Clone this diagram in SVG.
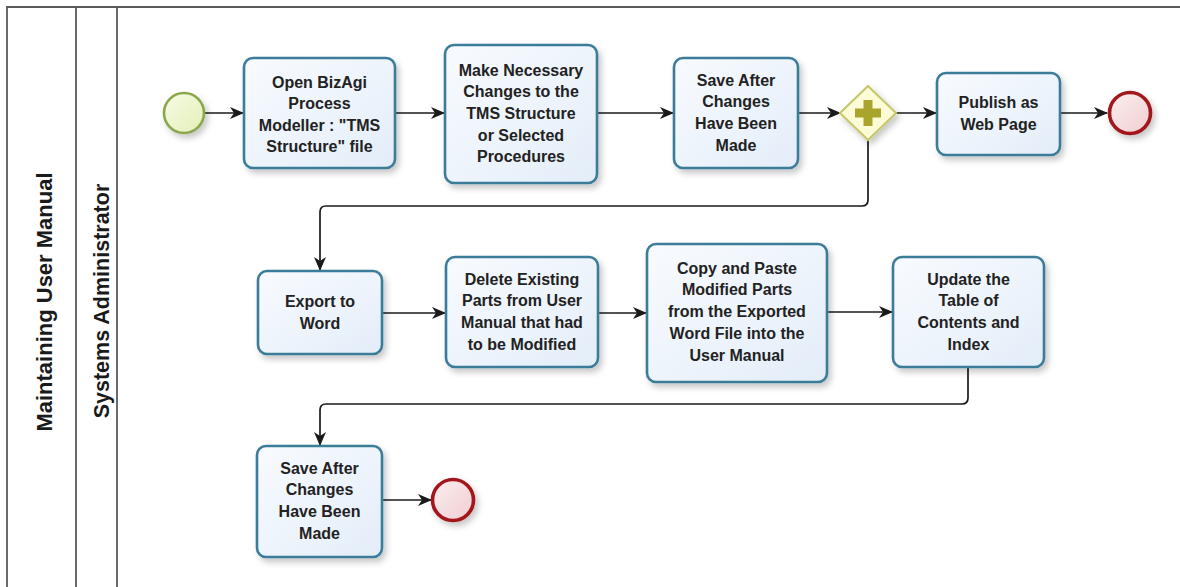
<svg xmlns="http://www.w3.org/2000/svg" width="1180" height="587" viewBox="0 0 1180 587">
  <style>
    .pool { stroke: #5a5a5a; stroke-width: 1.8; fill: none; }
    .task { fill: url(#taskFill); stroke: #3b7c98; stroke-width: 2.6; filter: url(#shadow); }
    .label { font-family: "Liberation Sans", Arial, sans-serif; font-weight: bold; font-size: 16px; fill: #222; text-anchor: middle; }
    .lane { font-family: "Liberation Sans", Arial, sans-serif; font-weight: bold; font-size: 22px; fill: #1a1a1a; text-anchor: middle; }
    .flow { fill: none; stroke: #1a1a1a; stroke-width: 1.7; marker-end: url(#arrow); }
    .start { fill: url(#startFill); stroke: #8aa84a; stroke-width: 2.6; filter: url(#shadow); }
    .end { fill: url(#endFill); stroke: #a3141c; stroke-width: 3.6; filter: url(#shadow); }
    .gate { fill: #fbfbd6; stroke: #c6c66a; stroke-width: 2; filter: url(#shadow); }
    .plus { fill: #a9a52c; }
  </style>
  <defs>
    <linearGradient id="taskFill" x1="0" y1="0" x2="1" y2="1">
      <stop offset="0" stop-color="#f8fbff"/>
      <stop offset="1" stop-color="#e3edf8"/>
    </linearGradient>
    <linearGradient id="startFill" x1="0" y1="0" x2="1" y2="1">
      <stop offset="0" stop-color="#f7fbe4"/>
      <stop offset="1" stop-color="#e3efb8"/>
    </linearGradient>
    <linearGradient id="endFill" x1="0" y1="0" x2="1" y2="1">
      <stop offset="0" stop-color="#fcefef"/>
      <stop offset="1" stop-color="#efcdd0"/>
    </linearGradient>
    <filter id="shadow" x="-20%" y="-20%" width="150%" height="150%">
      <feDropShadow dx="3" dy="4" stdDeviation="3" flood-color="#000" flood-opacity="0.22"/>
    </filter>
    <marker id="arrow" viewBox="0 0 14 12" refX="13" refY="6" markerWidth="14" markerHeight="12" markerUnits="userSpaceOnUse" orient="auto">
      <path d="M0,0 L14,6 L0,12 L4,6 z" fill="#1a1a1a"/>
    </marker>
  </defs>

  <!-- pool and lane frame -->
  <g id="pool">
    <path class="pool" d="M7,587 V7 H1180 M76,7 V587 M117,7 V587"/>
    <text class="lane" transform="translate(52,302) rotate(-90)">Maintaining User Manual</text>
    <text class="lane" transform="translate(109,301) rotate(-90)" style="font-size:21.5px">Systems Administrator</text>
  </g>

  <!-- sequence flows -->
  <g id="connectors">
    <path class="flow" d="M205,113 H243"/>
    <path class="flow" d="M395,113 H444"/>
    <path class="flow" d="M597,113 H673"/>
    <path class="flow" d="M798,113 H840"/>
    <path class="flow" d="M896,113 H936"/>
    <path class="flow" d="M1060,113 H1107"/>
    <path class="flow" d="M868,140 V200 Q868,206 862,206 H326 Q320,206 320,212 V270"/>
    <path class="flow" d="M382,313 H445"/>
    <path class="flow" d="M598,313 H646"/>
    <path class="flow" d="M827,312 H892"/>
    <path class="flow" d="M968,367 V398 Q968,404 962,404 H326 Q320,404 320,410 V445"/>
    <path class="flow" d="M382,500 H431"/>
  </g>

  <g id="start">
    <circle class="start" cx="184" cy="113" r="20"/>
  </g>

  <g id="task-open">
    <rect class="task" x="244" y="58" width="151" height="110" rx="9"/>
    <text class="label"><tspan x="319.5" y="87.5">Open BizAgi</tspan><tspan x="319.5" dy="21.5">Process</tspan><tspan x="319.5" dy="21.5">Modeller : "TMS</tspan><tspan x="319.5" dy="21.5">Structure" file</tspan></text>
  </g>

  <g id="task-changes">
    <rect class="task" x="445" y="45" width="152" height="138" rx="9"/>
    <text class="label"><tspan x="521" y="75.5">Make Necessary</tspan><tspan x="521" dy="21.7">Changes to the</tspan><tspan x="521" dy="21.7">TMS Structure</tspan><tspan x="521" dy="21.7">or Selected</tspan><tspan x="521" dy="21.7">Procedures</tspan></text>
  </g>

  <g id="task-save">
    <rect class="task" x="674" y="58" width="124" height="110" rx="9"/>
    <text class="label"><tspan x="736" y="85.5">Save After</tspan><tspan x="736" dy="21.7">Changes</tspan><tspan x="736" dy="21.7">Have Been</tspan><tspan x="736" dy="21.7">Made</tspan></text>
  </g>

  <g id="gateway">
    <path class="gate" d="M868,86 L896,113 L868,140 L840,113 z"/>
    <path class="plus" d="M863.5,100 h9 v8.5 h8.5 v9 h-8.5 v8.5 h-9 v-8.5 h-8.5 v-9 h8.5 z"/>
  </g>

  <g id="task-publish">
    <rect class="task" x="937" y="73" width="123" height="82" rx="9"/>
    <text class="label"><tspan x="998.5" y="108">Publish as</tspan><tspan x="998.5" dy="22">Web Page</tspan></text>
  </g>

  <g id="end-publish">
    <circle class="end" cx="1130" cy="113" r="20.5"/>
  </g>

  <g id="task-export">
    <rect class="task" x="258" y="271" width="124" height="83" rx="9"/>
    <text class="label"><tspan x="320" y="306.5">Export to</tspan><tspan x="320" dy="22">Word</tspan></text>
  </g>

  <g id="task-delete">
    <rect class="task" x="446" y="257" width="152" height="110" rx="9"/>
    <text class="label"><tspan x="522" y="284.5">Delete Existing</tspan><tspan x="522" dy="21.7">Parts from User</tspan><tspan x="522" dy="21.7">Manual that had</tspan><tspan x="522" dy="21.7">to be Modified</tspan></text>
  </g>

  <g id="task-copy">
    <rect class="task" x="647" y="244" width="180" height="138" rx="9"/>
    <text class="label"><tspan x="737" y="273.5">Copy and Paste</tspan><tspan x="737" dy="21.8">Modified Parts</tspan><tspan x="737" dy="21.8">from the Exported</tspan><tspan x="737" dy="21.8">Word File into the</tspan><tspan x="737" dy="21.8">User Manual</tspan></text>
  </g>

  <g id="task-update">
    <rect class="task" x="893" y="257" width="151" height="110" rx="9"/>
    <text class="label"><tspan x="968.5" y="284.5">Update the</tspan><tspan x="968.5" dy="21.8">Table of</tspan><tspan x="968.5" dy="21.8">Contents and</tspan><tspan x="968.5" dy="21.8">Index</tspan></text>
  </g>

  <g id="task-save-manual">
    <rect class="task" x="257" y="446" width="125" height="111" rx="9"/>
    <text class="label"><tspan x="319.5" y="473.5">Save After</tspan><tspan x="319.5" dy="21.8">Changes</tspan><tspan x="319.5" dy="21.8">Have Been</tspan><tspan x="319.5" dy="21.8">Made</tspan></text>
  </g>

  <g id="end-manual">
    <circle class="end" cx="453" cy="500" r="20.5"/>
  </g>
</svg>
